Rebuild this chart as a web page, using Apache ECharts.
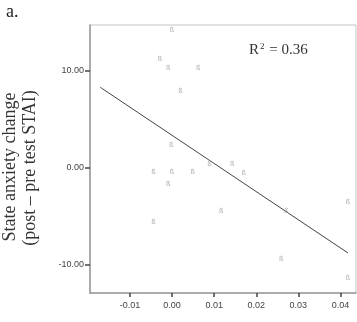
<!DOCTYPE html>
<html>
<head>
<meta charset="utf-8">
<script src="https://cdn.jsdelivr.net/npm/echarts@6/dist/echarts.min.js"></script>
<style>
  html, body { margin: 0; padding: 0; background: #fff; }
  #chart { width: 357px; height: 322px; }
</style>
</head>
<body>
<div id="chart"></div>
<script>
// change in physiological measure (x) vs state anxiety change (y)
const xValues = [0.0000, -0.0029, -0.0009, 0.0062, 0.0020, -0.0002, -0.0044, 0.0000, 0.0049, 0.0089,
  -0.0009, -0.0044, 0.0143, 0.0170, 0.0117, 0.0271, 0.0418, 0.0259, 0.0418]
const yValues = [14.2, 11.26, 10.25, 10.25, 7.9, 2.28, -0.52, -0.52, -0.52, 0.34,
  -1.66, -5.62, 0.38, -0.57, -4.5, -4.5, -3.55, -9.49, -11.42]
// fitted line ends
const fitX = [-0.01705, 0.0418]
const fitY = [8.31, -8.83]
const xTicks = [-0.01, 0, 0.01, 0.02, 0.03, 0.04]
const yTicks = [-10, 0, 10]
const rSquared = '0.36'

const chart = echarts.init(document.getElementById('chart'))

const points = xValues.map((x, i) => [x, yValues[i]])

chart.setOption({
  animation: false,
  backgroundColor: '#fff',
  grid: {
    left: 90, top: 25, right: 1, bottom: 29,
    show: true, borderColor: '#c4c4c4', borderWidth: 1
  },
  xAxis: {
    type: 'value',
    min: -0.0195, max: 0.0437,
    splitLine: { show: false },
    axisLine: { show: true, onZero: false, lineStyle: { color: '#999', width: 1.5 } },
    axisTick: { show: true, length: 4, customValues: xTicks, lineStyle: { color: '#444', width: 1.5 } },
    axisLabel: {
      customValues: xTicks, margin: 8,
      fontFamily: 'Liberation Sans', fontSize: 9, color: '#444',
      formatter: v => v.toFixed(2)
    }
  },
  yAxis: {
    type: 'value',
    min: -12.97, max: 14.76,
    splitLine: { show: false },
    axisLine: { show: true, onZero: false, lineStyle: { color: '#999', width: 1.5 } },
    axisTick: { show: true, length: 5, customValues: yTicks, lineStyle: { color: '#444', width: 1.5 } },
    axisLabel: {
      customValues: yTicks, margin: 6,
      fontFamily: 'Liberation Sans', fontSize: 9, color: '#444',
      formatter: v => v.toFixed(2)
    }
  },
  graphic: [
    { type: 'text', left: 6, top: 3, style: { text: 'a.', font: '18px "Liberation Serif"', fill: '#222' } },
    {
      type: 'text', x: 10, y: 167, rotation: Math.PI / 2,
      style: { text: 'State anxiety change', font: '18px "Liberation Serif"', fill: '#333', align: 'center', verticalAlign: 'middle' }
    },
    {
      type: 'text', x: 30, y: 168, rotation: Math.PI / 2,
      style: { text: '(post \u2013 pre test STAI)', font: '18px "Liberation Serif"', fill: '#333', align: 'center', verticalAlign: 'middle' }
    },
    {
      type: 'text', left: 249, top: 42,
      style: {
        text: 'R{s|2} = ' + rSquared,
        font: '15px "Liberation Serif"', fill: '#333',
        rich: { s: { fontSize: 9, fontFamily: 'Liberation Serif', verticalAlign: 'top', padding: [0, 1, 8, 1] } }
      }
    }
  ],
  series: [
    {
      type: 'line',
      data: fitX.map((x, i) => [x, fitY[i]]),
      symbol: 'none',
      lineStyle: { color: '#444', width: 1 },
      z: 2
    },
    {
      type: 'scatter',
      data: points,
      symbolSize: 1,
      itemStyle: { color: 'rgba(0,0,0,0)' },
      label: {
        show: true, position: 'inside', formatter: '\u00df',
        fontFamily: 'DejaVu Sans', fontSize: 7, color: '#9a9a9a'
      },
      z: 3
    }
  ]
})
</script>
</body>
</html>
